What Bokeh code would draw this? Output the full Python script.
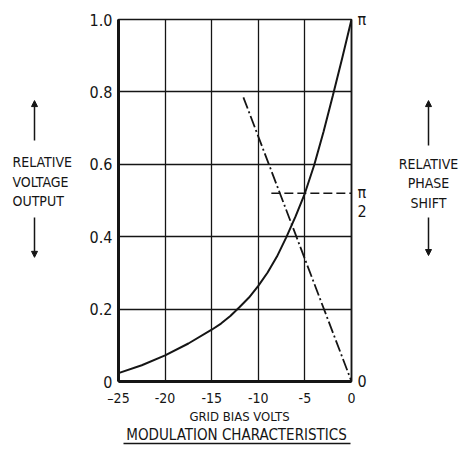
from bokeh.plotting import figure
from bokeh.layouts import row, column
from bokeh.models import FixedTicker, Label, Arrow, NormalHead, Range1d, LinearAxis
from bokeh.embed import file_html
from bokeh.resources import INLINE

# ---- data ----
bias_ticks = [-25, -20, -15, -10, -5, 0]
bias_tick_labels = ["–25", "-20", "-15", "-10", "-5", "0"]
output_ticks = [0, 0.2, 0.4, 0.6, 0.8, 1.0]
output_tick_labels = ["0", "0.2", "0.4", "0.6", "0.8", "1.0"]

# relative voltage output curve (solid)
bias_v = [-25, -22.5, -20, -17.5, -15, -14, -13, -12, -11, -10, -9, -8, -7, -6,
          -5, -4, -3, -2, -1, 0]
rel_output = [0.023, 0.045, 0.072, 0.105, 0.143, 0.160, 0.181, 0.206, 0.232, 0.264,
              0.301, 0.345, 0.398, 0.456, 0.52, 0.598, 0.69, 0.79, 0.893, 1.0]

# relative phase shift (dash-dot), on the same 0..1 scale (0 .. pi)
phase_bias = [-11.6, 0]
phase_rel = [0.785, 0.0]

# pi/2 marker (dashed)
halfpi_bias = [-8.6, 0]
halfpi_level = [0.52, 0.52]

# phase scale (right side): 0, pi/2 (drawn as a stacked fraction), pi
phase_ticks = [0, 0.497, 1.0]
phase_tick_labels = ["0", "π\n2", "π"]

left_label_lines = ["RELATIVE", "VOLTAGE", "OUTPUT"]
right_label_lines = ["RELATIVE", "PHASE", "SHIFT"]
x_title = "GRID BIAS VOLTS"
chart_title = "MODULATION CHARACTERISTICS"

FONT = "DejaVu Sans Condensed"
INK = "#151515"

TOP = 19
FRAME_H = 362
BOTTOM = 28
ROW_H = TOP + FRAME_H + BOTTOM


def panel(width, height, xr, yr):
    f = figure(width=width, height=height, output_backend="svg", toolbar_location=None,
               x_range=xr, y_range=yr, x_axis_location=None, y_axis_location=None,
               min_border_left=0, min_border_right=0, min_border_top=0,
               min_border_bottom=0, outline_line_color=None)
    f.grid.visible = False
    return f


# ---------- main chart ----------
p = figure(width=42 + 233 + 20, height=ROW_H, output_backend="svg",
           toolbar_location=None, x_range=Range1d(-25, 0), y_range=Range1d(0, 1),
           min_border_left=42, min_border_right=20, min_border_top=TOP,
           min_border_bottom=BOTTOM)

p.outline_line_color = INK
p.outline_line_width = 1.5
p.grid.grid_line_color = INK
p.grid.grid_line_width = 1.3
p.grid.grid_line_alpha = 1.0

p.xaxis.ticker = FixedTicker(ticks=bias_ticks)
p.xaxis.major_label_overrides = dict(zip(bias_ticks, bias_tick_labels))
p.yaxis.ticker = FixedTicker(ticks=output_ticks)
p.yaxis.major_label_overrides = dict(zip(output_ticks, output_tick_labels))
p.xgrid.ticker = FixedTicker(ticks=bias_ticks)
p.ygrid.ticker = FixedTicker(ticks=output_ticks)

ra = LinearAxis(ticker=FixedTicker(ticks=phase_ticks),
                major_label_overrides=dict(zip(phase_ticks, phase_tick_labels)))
p.add_layout(ra, "right")

for ax in (p.xaxis[0], p.yaxis[0], ra):
    ax.axis_line_width = 3
    ax.axis_line_color = INK
    ax.major_tick_line_color = None
    ax.minor_tick_line_color = None
    ax.major_tick_out = 0
    ax.minor_tick_out = 0
    ax.major_label_text_font = FONT
    ax.major_label_text_color = INK

ra.axis_line_width = 1.5
ra.major_label_text_font_size = "16px"
ra.major_label_standoff = 5
ra.major_label_text_line_height = 1.0
p.yaxis.major_label_text_font_size = "16px"
p.yaxis.major_label_standoff = 6
p.xaxis.major_label_text_font_size = "14px"
p.xaxis.major_label_standoff = 8

p.line(bias_v, rel_output, line_color=INK, line_width=2)
p.line(phase_bias, phase_rel, line_color=INK, line_width=1.8, line_dash="12 3 2 3")
p.line(halfpi_bias, halfpi_level, line_color=INK, line_width=1.5, line_dash="9 4")

# ---------- side panels (their frames line up with the chart's frame) ----------
def caption(f, x, ys, lines, align, up, down, ax):
    for yy, t in zip(ys, lines):
        f.add_layout(Label(x=x, y=yy, text=t, text_font=FONT, text_font_size="14px",
                           text_color=INK, text_align=align, text_baseline="middle"))
    for s, e in (up, down):
        f.add_layout(Arrow(x_start=ax, y_start=s, x_end=ax, y_end=e,
                           line_color=INK, line_width=1.5,
                           end=NormalHead(size=6, fill_color=INK, line_color=INK)))


left = panel(76, ROW_H, Range1d(0, 76), Range1d(0, 1))
caption(left, 12, [0.605, 0.55, 0.5], left_label_lines, "left",
        (0.666, 0.776), (0.453, 0.343), 34)

RW = 459 - 76 - (42 + 233 + 20)
right = panel(RW, ROW_H, Range1d(0, RW), Range1d(0, 1))
caption(right, 57, [0.602, 0.547, 0.494], right_label_lines, "center",
        (0.652, 0.776), (0.453, 0.348), 57)

# ---------- bottom: axis title and underlined chart title ----------
BH = 445 - ROW_H
bottom = panel(459, BH, Range1d(0, 459), Range1d(0, BH))
bottom.add_layout(Label(x=239, y=BH - 7, text=x_title, text_font=FONT,
                        text_font_size="13px", text_color=INK, text_align="center",
                        text_baseline="middle"))
bottom.add_layout(Label(x=236, y=11, text=chart_title, text_font=FONT,
                        text_font_size="15px", text_color=INK, text_align="center",
                        text_baseline="middle"))
bottom.add_layout(Arrow(x_start=123, y_start=2, x_end=350, y_end=2,
                        line_color=INK, line_width=1.3, end=None))

layout = column(row(left, p, right, spacing=0), bottom, spacing=0)
open("out.html", "w").write(file_html(layout, INLINE))
